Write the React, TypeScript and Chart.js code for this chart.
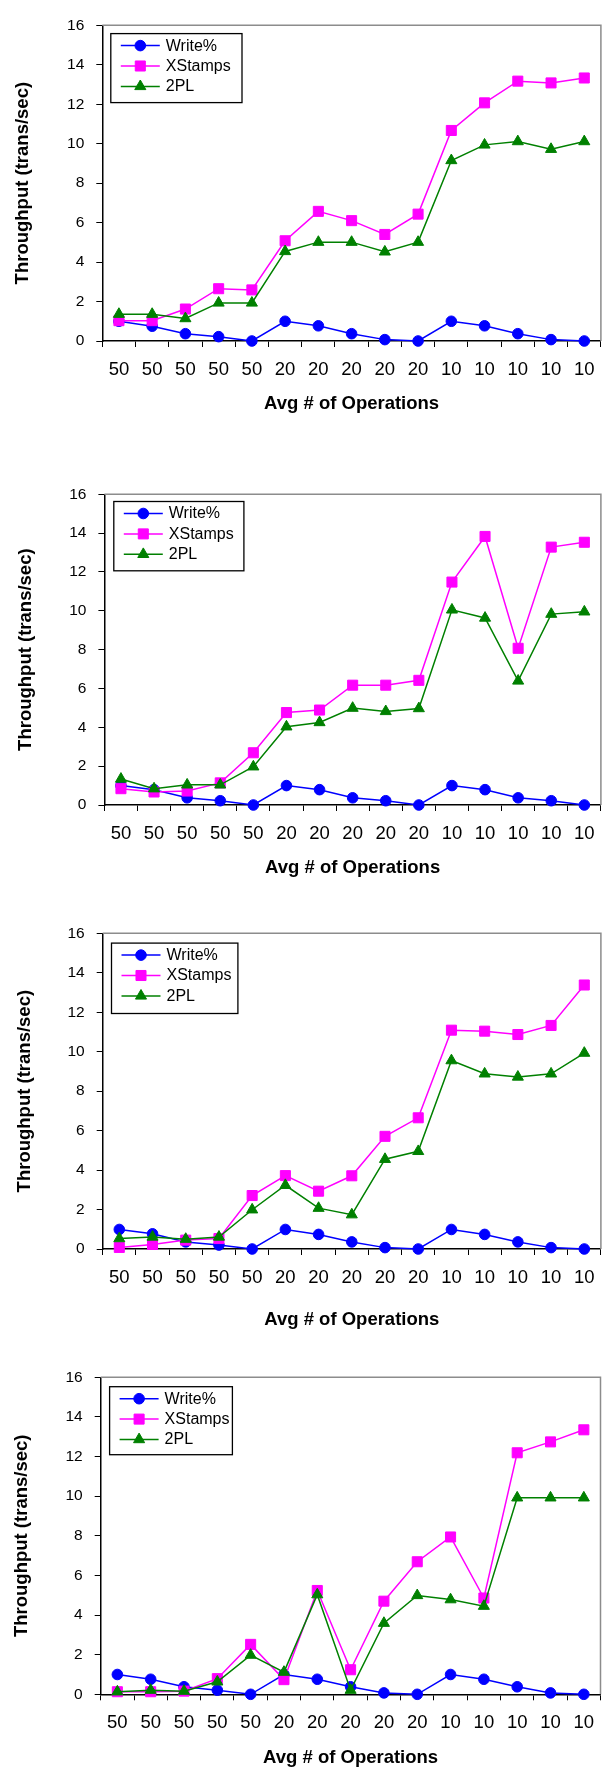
import React, { useEffect, useRef } from 'react';
import { Chart, registerables } from 'chart.js';

Chart.register(...registerables);

// ---------- data ----------
const categories = ['50', '50', '50', '50', '50', '20', '20', '20', '20', '20', '10', '10', '10', '10', '10'];
const seriesNames = ['Write%', 'XStamps', '2PL'];
const yTicksMax = 16;
const yTicksStep = 2;
const yAxisTitle = 'Throughput (trans/sec)';
const xAxisTitle = 'Avg # of Operations';

const write1 = [1.0, 0.75, 0.37, 0.22, 0.0, 1.0, 0.77, 0.37, 0.07, 0.0, 1.0, 0.77, 0.37, 0.07, 0.0];
const xstamps1 = [1.03, 1.03, 1.62, 2.65, 2.59, 5.08, 6.57, 6.1, 5.4, 6.43, 10.67, 12.07, 13.17, 13.08, 13.33];
const twoPL1 = [1.36, 1.36, 1.14, 1.93, 1.93, 4.54, 5.01, 5.01, 4.52, 5.01, 9.15, 9.94, 10.11, 9.72, 10.11];

const write2 = [1.0, 0.79, 0.37, 0.22, 0.0, 1.0, 0.79, 0.37, 0.22, 0.0, 1.0, 0.79, 0.37, 0.22, 0.0];
const xstamps2 = [0.84, 0.67, 0.72, 1.14, 2.69, 4.76, 4.89, 6.17, 6.17, 6.42, 11.48, 13.83, 8.07, 13.28, 13.53];
const twoPL2 = [1.34, 0.84, 1.04, 1.04, 1.97, 4.03, 4.25, 4.99, 4.82, 4.97, 10.05, 9.63, 6.39, 9.83, 9.95];

const write3 = [0.99, 0.77, 0.36, 0.2, 0.0, 0.99, 0.74, 0.36, 0.07, 0.0, 0.99, 0.74, 0.36, 0.07, 0.0];
const xstamps3 = [0.08, 0.23, 0.45, 0.53, 2.71, 3.72, 2.93, 3.71, 5.71, 6.65, 11.09, 11.04, 10.87, 11.33, 13.38];
const twoPL3 = [0.53, 0.61, 0.5, 0.61, 1.99, 3.23, 2.07, 1.74, 4.55, 4.95, 9.55, 8.88, 8.72, 8.88, 9.93];

const write4 = [1.0, 0.76, 0.38, 0.21, 0.0, 1.0, 0.76, 0.38, 0.07, 0.0, 1.0, 0.76, 0.38, 0.07, 0.0];
const xstamps4 = [0.13, 0.13, 0.16, 0.79, 2.52, 0.74, 5.24, 1.24, 4.7, 6.69, 7.94, 4.86, 12.19, 12.74, 13.35];
const twoPL4 = [0.13, 0.21, 0.16, 0.63, 1.98, 1.12, 5.03, 0.21, 3.59, 4.99, 4.78, 4.45, 9.92, 9.92, 9.92];

// ---------- styles / layout ----------
const FONT = '"Liberation Sans", Arial, Helvetica, sans-serif';
const COLORS = ['#0000ff', '#ff00ff', '#008000'];
const POINT_STYLES = ['circle', 'rect', 'triangle'];
const POINT_RADII = [5.3, 7.1, 6.4];

type PanelLayout = {
  plotTop: number; plotBottom: number; plotLeft: number; plotRight: number;
  xTitleOff: number; yTitleX: number;
  legend: { dx: number; dy: number; w: number; h: number };
};

const panels: { series: number[][]; layout: PanelLayout }[] = [
  { series: [write1, xstamps1, twoPL1], layout: { plotTop: 19, plotBottom: 341, plotLeft: 102.3, plotRight: 604.3, xTitleOff: 62.5, yTitleX: 23, legend: { dx: 8.5, dy: 8.3, w: 131.2, h: 69 } } },
  { series: [write2, xstamps2, twoPL2], layout: { plotTop: 488.5, plotBottom: 805, plotLeft: 104.4, plotRight: 603.2, xTitleOff: 62.5, yTitleX: 26, legend: { dx: 9.4, dy: 7.2, w: 130.1, h: 69.3 } } },
  { series: [write3, xstamps3, twoPL3], layout: { plotTop: 927.5, plotBottom: 1249, plotLeft: 102.7, plotRight: 603.2, xTitleOff: 71.3, yTitleX: 25, legend: { dx: 8.8, dy: 9.8, w: 126.4, h: 70.4 } } },
  { series: [write4, xstamps4, twoPL4], layout: { plotTop: 1371, plotBottom: 1694.3, plotLeft: 100.7, plotRight: 600.5, xTitleOff: 64, yTitleX: 21.6, legend: { dx: 8.9, dy: 9.4, w: 122.8, h: 68 } } },
];

function drawMarker(ctx: CanvasRenderingContext2D, style: string, x: number, y: number, r: number) {
  ctx.beginPath();
  if (style === 'circle') {
    ctx.arc(x, y, r, 0, Math.PI * 2);
  } else if (style === 'rect') {
    const s = Math.SQRT1_2 * r;
    ctx.rect(x - s, y - s, 2 * s, 2 * s);
  } else {
    let rad = 0;
    ctx.moveTo(x + Math.sin(rad) * r, y - Math.cos(rad) * r);
    rad += (2 * Math.PI) / 3;
    ctx.lineTo(x + Math.sin(rad) * r, y - Math.cos(rad) * r);
    rad += (2 * Math.PI) / 3;
    ctx.lineTo(x + Math.sin(rad) * r, y - Math.cos(rad) * r);
    ctx.closePath();
  }
  ctx.fill();
  ctx.stroke();
}

const decorPlugin = {
  id: 'panelDecor',
  beforeDatasetsDraw(chart: any) {
    const { ctx, chartArea: a } = chart;
    ctx.save();
    ctx.strokeStyle = '#8c8c8c';
    ctx.lineWidth = 1.5;
    ctx.beginPath();
    ctx.moveTo(a.left, a.top);
    ctx.lineTo(a.right, a.top);
    ctx.lineTo(a.right, a.bottom);
    ctx.stroke();
    ctx.restore();
  },
  afterDatasetsDraw(chart: any, _args: any, opts: any) {
    const { ctx, chartArea: a } = chart;
    const lg = opts.legend;
    if (!lg) return;
    const bx = a.left + lg.dx;
    const by = a.top + lg.dy;
    ctx.save();
    ctx.fillStyle = '#ffffff';
    ctx.fillRect(bx, by, lg.w, lg.h);
    ctx.strokeStyle = '#000000';
    ctx.lineWidth = 1.3;
    ctx.strokeRect(bx, by, lg.w, lg.h);
    const dsets = chart.data.datasets;
    dsets.forEach((ds: any, i: number) => {
      const ry = by + 12 + i * 20.4;
      ctx.strokeStyle = ds.borderColor;
      ctx.lineWidth = 1.5;
      ctx.beginPath();
      ctx.moveTo(bx + 10, ry);
      ctx.lineTo(bx + 49, ry);
      ctx.stroke();
      ctx.fillStyle = ds.borderColor;
      ctx.lineWidth = 1;
      drawMarker(ctx, ds.pointStyle, bx + 29.5, ry, ds.pointRadius);
      ctx.fillStyle = '#000000';
      ctx.font = `16px ${FONT}`;
      ctx.textBaseline = 'middle';
      ctx.textAlign = 'left';
      ctx.fillText(ds.label, bx + 55, ry + 0.5);
    });
    ctx.restore();
  },
};

function Panel({ series, layout }: { series: number[][]; layout: PanelLayout }) {
  const ref = useRef<HTMLCanvasElement>(null);
  const canvasTop = Math.floor(layout.plotTop - 15);
  const padTop = layout.plotTop - canvasTop;
  const xh = layout.xTitleOff + 11.1;
  const height = Math.ceil(layout.plotBottom - canvasTop + xh) + 1;
  const padBottom = height - (layout.plotBottom - canvasTop) - xh;

  useEffect(() => {
    if (!ref.current) return;
    const chart = new Chart(ref.current, {
      type: 'line',
      data: {
        labels: categories,
        datasets: series.map((vals, i) => ({
          label: seriesNames[i],
          data: vals,
          borderColor: COLORS[i],
          backgroundColor: COLORS[i],
          pointBackgroundColor: COLORS[i],
          pointBorderColor: COLORS[i],
          pointStyle: POINT_STYLES[i] as any,
          pointRadius: POINT_RADII[i],
          pointBorderWidth: 1,
          borderWidth: 1.5,
          tension: 0,
          fill: false,
          clip: false as any,
          order: 3 - i,
        })),
      },
      options: {
        responsive: false,
        animation: false,
        devicePixelRatio: 1,
        font: { family: FONT },
        layout: { padding: { top: padTop, left: 0, right: 609 - layout.plotRight, bottom: padBottom } },
        scales: {
          x: {
            type: 'category',
            offset: true,
            ticks: { autoSkip: false, maxRotation: 0, minRotation: 0, font: { size: 18.5, family: FONT }, color: '#000', padding: 11.6 },
            grid: { offset: true, drawOnChartArea: false, tickLength: 6, color: '#000', tickColor: '#000', lineWidth: 1 },
            border: { color: '#000', width: 1.5 },
            title: { display: true, text: xAxisTitle, font: { size: 18.5, weight: 'bold', family: FONT }, color: '#000', padding: { top: 0, bottom: 0 } },
            afterFit: (s: any) => { s.height = xh; },
          },
          y: {
            min: 0,
            max: yTicksMax,
            ticks: { stepSize: yTicksStep, font: { size: 15.5, family: FONT }, color: '#000', padding: 12 },
            grid: { drawOnChartArea: false, tickLength: 6, color: '#000', tickColor: '#000', lineWidth: 1 },
            border: { color: '#000', width: 1.5 },
            title: { display: true, text: yAxisTitle, font: { size: 18.5, weight: 'bold', family: FONT }, color: '#000', padding: { top: layout.yTitleX - 11.1, bottom: 0 } },
            afterFit: (s: any) => { s.width = layout.plotLeft; },
          },
        },
        plugins: {
          legend: { display: false },
          tooltip: { enabled: false },
          panelDecor: { legend: layout.legend },
        } as any,
      },
      plugins: [decorPlugin],
    });
    return () => chart.destroy();
  }, []);

  return (
    <canvas
      ref={ref}
      width={609}
      height={height}
      style={{ position: 'absolute', left: 0, top: canvasTop, width: 609, height, display: 'block' }}
    />
  );
}

export default function App() {
  return (
    <div style={{ position: 'absolute', left: 0, top: 0, width: 609, height: 1769, overflow: 'hidden', background: '#fff' }}>
      {panels.map((p, i) => (
        <Panel key={i} series={p.series} layout={p.layout} />
      ))}
    </div>
  );
}
